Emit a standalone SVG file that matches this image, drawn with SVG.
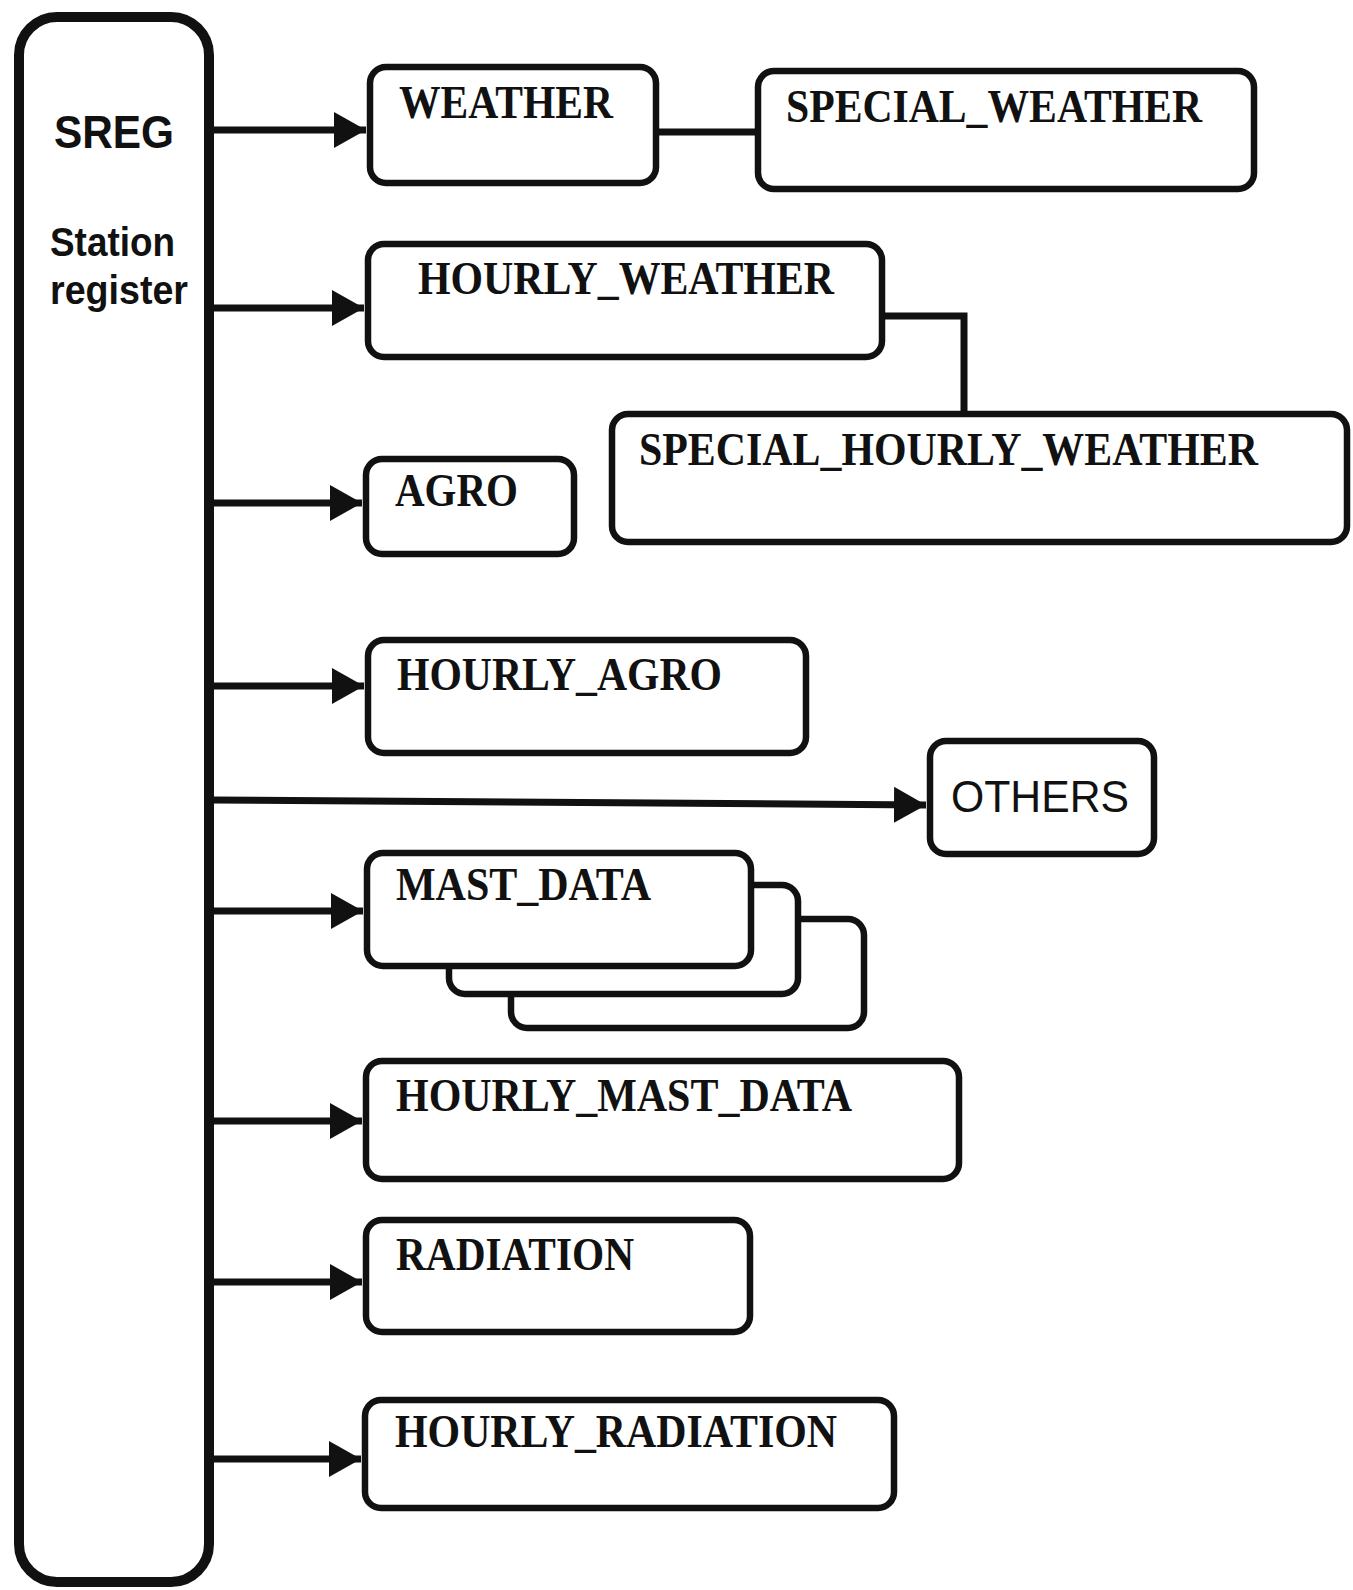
<svg xmlns="http://www.w3.org/2000/svg" width="1353" height="1590" viewBox="0 0 1353 1590">
<style>
.box{fill:#fff;stroke:#111;stroke-width:6.5}
.sreg{fill:#fff;stroke:#111;stroke-width:10}
.lbl{font-family:"Liberation Serif","Times New Roman",serif;font-weight:bold;font-size:46px;fill:#111}
.sans{font-family:"Liberation Sans",Arial,sans-serif;fill:#111}
.conn{stroke:#111;stroke-width:7;fill:none}
</style>
<defs>
<marker id="ah" viewBox="0 0 32 36" refX="32" refY="18" markerWidth="32" markerHeight="36" markerUnits="userSpaceOnUse" orient="auto">
<path d="M0,0 L32,18 L0,36 Z" fill="#111"/>
</marker>
</defs>
<rect width="1353" height="1590" fill="#fff"/>
<g id="sreg">
<rect class="sreg" x="19" y="17" width="190" height="1565" rx="38"/>
<text class="sans" x="54" y="148" font-size="46" font-weight="bold" textLength="120" lengthAdjust="spacingAndGlyphs">SREG</text>
<text class="sans" x="50" y="256" font-size="40" font-weight="bold" textLength="125" lengthAdjust="spacingAndGlyphs">Station</text>
<text class="sans" x="50" y="304" font-size="40" font-weight="bold" textLength="138" lengthAdjust="spacingAndGlyphs">register</text>
</g>
<g id="connectors">
<line class="conn" x1="212" y1="130" x2="366" y2="130" marker-end="url(#ah)"/>
<line class="conn" x1="212" y1="308" x2="364" y2="308" marker-end="url(#ah)"/>
<line class="conn" x1="212" y1="503" x2="362" y2="503" marker-end="url(#ah)"/>
<line class="conn" x1="212" y1="686" x2="364" y2="686" marker-end="url(#ah)"/>
<line class="conn" x1="212" y1="800" x2="926" y2="805" marker-end="url(#ah)"/>
<line class="conn" x1="212" y1="911" x2="363" y2="911" marker-end="url(#ah)"/>
<line class="conn" x1="212" y1="1121" x2="362" y2="1121" marker-end="url(#ah)"/>
<line class="conn" x1="212" y1="1282" x2="362" y2="1282" marker-end="url(#ah)"/>
<line class="conn" x1="212" y1="1459" x2="361" y2="1459" marker-end="url(#ah)"/>
<line class="conn" x1="656" y1="132" x2="758" y2="132"/>
<polyline class="conn" points="882,316 964,316 964,414"/>
</g>
<g id="weather">
<rect class="box" x="370" y="67" width="286" height="116" rx="16"/>
<text class="lbl" x="399" y="118" textLength="214" lengthAdjust="spacingAndGlyphs">WEATHER</text>
</g>
<g id="special_weather">
<rect class="box" x="758" y="71" width="496" height="118" rx="16"/>
<text class="lbl" x="786" y="122" textLength="416" lengthAdjust="spacingAndGlyphs">SPECIAL_WEATHER</text>
</g>
<g id="hourly_weather">
<rect class="box" x="368" y="244" width="514" height="113" rx="16"/>
<text class="lbl" x="418" y="294" textLength="416" lengthAdjust="spacingAndGlyphs">HOURLY_WEATHER</text>
</g>
<g id="special_hourly_weather">
<rect class="box" x="612" y="414" width="735" height="128" rx="16"/>
<text class="lbl" x="639" y="465" textLength="619" lengthAdjust="spacingAndGlyphs">SPECIAL_HOURLY_WEATHER</text>
</g>
<g id="agro">
<rect class="box" x="366" y="459" width="208" height="95" rx="16"/>
<text class="lbl" x="395" y="506" textLength="123" lengthAdjust="spacingAndGlyphs">AGRO</text>
</g>
<g id="hourly_agro">
<rect class="box" x="368" y="640" width="438" height="113" rx="16"/>
<text class="lbl" x="397" y="690" textLength="325" lengthAdjust="spacingAndGlyphs">HOURLY_AGRO</text>
</g>
<g id="others">
<rect class="box" x="930" y="741" width="224" height="113" rx="16"/>
<text class="sans" x="951" y="812" font-size="44" textLength="178" lengthAdjust="spacingAndGlyphs">OTHERS</text>
</g>
<g id="mast_data">
<rect class="box" x="511" y="919" width="353" height="109" rx="16"/>
<rect class="box" x="449" y="885" width="349" height="109" rx="16"/>
<rect class="box" x="367" y="853" width="384" height="113" rx="16"/>
<text class="lbl" x="396" y="900" textLength="255" lengthAdjust="spacingAndGlyphs">MAST_DATA</text>
</g>
<g id="hourly_mast_data">
<rect class="box" x="366" y="1061" width="593" height="118" rx="16"/>
<text class="lbl" x="396" y="1111" textLength="456" lengthAdjust="spacingAndGlyphs">HOURLY_MAST_DATA</text>
</g>
<g id="radiation">
<rect class="box" x="366" y="1220" width="384" height="112" rx="16"/>
<text class="lbl" x="396" y="1270" textLength="238" lengthAdjust="spacingAndGlyphs">RADIATION</text>
</g>
<g id="hourly_radiation">
<rect class="box" x="365" y="1400" width="529" height="108" rx="16"/>
<text class="lbl" x="395" y="1447" textLength="442" lengthAdjust="spacingAndGlyphs">HOURLY_RADIATION</text>
</g>
</svg>
